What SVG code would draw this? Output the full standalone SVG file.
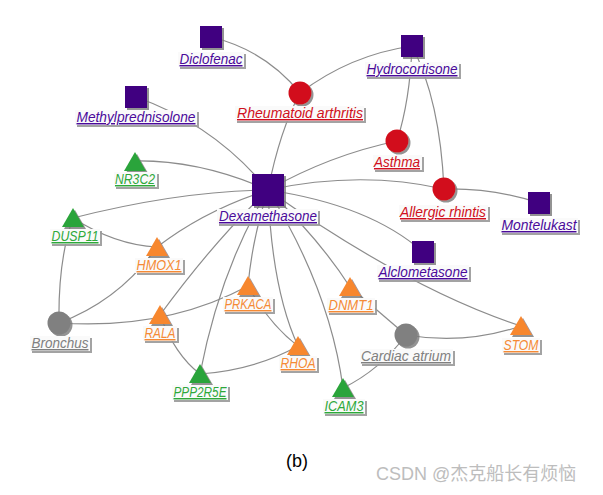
<svg xmlns="http://www.w3.org/2000/svg" xmlns:xlink="http://www.w3.org/1999/xlink" width="603" height="495" viewBox="0 0 603 495">
<defs>
<filter id="sh" x="-30%" y="-30%" width="160%" height="160%"><feDropShadow dx="2" dy="2" stdDeviation="0.6" flood-color="#777" flood-opacity="0.8"/></filter>
<filter id="lsh" x="-10%" y="-30%" width="120%" height="160%"><feDropShadow dx="2" dy="2" stdDeviation="0.5" flood-color="#999" flood-opacity="0.9"/></filter>
<path id="tri" d="M0,-10 L11,9 L-11,9 Z"/>
<rect id="sq" x="-11" y="-11" width="22" height="22"/>
</defs>
<style>
.e{fill:none;stroke:#8c8c8c;stroke-width:1.2}
.lb{fill:#fafafa;filter:url(#lsh)}
text.t{font-family:"Liberation Sans",Arial,sans-serif;font-style:italic;font-size:14.5px;text-anchor:middle;text-decoration:underline}
.pu{fill:#400080}.re{fill:#d2101b}.gr{fill:#2ba43a}.or{fill:#f7872f}.gy{fill:#808080}
text.pu{fill:#4a0a9a}text.re{fill:#d01020}text.gr{fill:#2ea83a}text.or{fill:#f58a35}text.gy{fill:#808080}
.n{filter:url(#sh)}
</style>
<rect width="603" height="495" fill="#fff"/>
<g id="edges">
<path class="e" d="M211,37 Q265,50 300,93"/>
<path class="e" d="M412,46 Q350,55 300,93"/>
<path class="e" d="M412,46 Q410,100 397,141"/>
<path class="e" d="M412,46 Q440,100 444,189"/>
<path class="e" d="M136,97 Q215,125 268,190"/>
<path class="e" d="M300,93 Q280,130 268,190"/>
<path class="e" d="M397,141 Q330,155 268,190"/>
<path class="e" d="M444,189 Q360,170 268,190"/>
<path class="e" d="M444,189 Q495,188 539,203"/>
<path class="e" d="M268,190 Q370,205 423,252"/>
<path class="e" d="M268,190 Q410,290 521,326"/>
<path class="e" d="M268,190 Q200,160 135,161"/>
<path class="e" d="M268,190 Q179,191 73,218"/>
<path class="e" d="M268,190 Q205,210 157,247"/>
<path class="e" d="M73,218 Q115,245 157,247"/>
<path class="e" d="M73,218 Q58,260 59,323"/>
<path class="e" d="M157,247 Q120,300 59,323"/>
<path class="e" d="M59,323 Q166,330 248,286"/>
<path class="e" d="M268,190 Q215,240 160,315"/>
<path class="e" d="M160,315 Q175,355 200,374"/>
<path class="e" d="M268,190 Q220,270 200,374"/>
<path class="e" d="M268,190 Q252,240 248,286"/>
<path class="e" d="M268,190 Q272,290 298,346"/>
<path class="e" d="M248,286 Q270,325 298,346"/>
<path class="e" d="M200,374 Q255,370 298,346"/>
<path class="e" d="M268,190 Q330,290 343,388"/>
<path class="e" d="M268,190 Q320,240 350,287"/>
<path class="e" d="M350,287 L406,335"/>
<path class="e" d="M406,335 Q465,345 521,326"/>
<path class="e" d="M406,335 Q380,370 343,388"/>
</g>
<g id="n-diclofenac"><use href="#sq" class="pu n" x="211" y="37"/><rect class="lb" x="178" y="52" width="66" height="15"/><text class="t pu" x="211" y="64" textLength="63" lengthAdjust="spacingAndGlyphs">Diclofenac</text></g>
<g id="n-methylprednisolone"><use href="#sq" class="pu n" x="136" y="97"/><rect class="lb" x="75" y="110" width="122" height="15"/><text class="t pu" x="136" y="122" textLength="119" lengthAdjust="spacingAndGlyphs">Methylprednisolone</text></g>
<g id="n-rheumatoid"><circle class="re n" cx="300" cy="93" r="11.5"/><rect class="lb" x="235" y="106" width="129" height="15"/><text class="t re" x="300" y="118" textLength="126" lengthAdjust="spacingAndGlyphs">Rheumatoid arthritis</text></g>
<g id="n-hydrocortisone"><use href="#sq" class="pu n" x="412" y="46"/><rect class="lb" x="365" y="62" width="94" height="15"/><text class="t pu" x="412" y="74" textLength="91" lengthAdjust="spacingAndGlyphs">Hydrocortisone</text></g>
<g id="n-asthma"><circle class="re n" cx="397" cy="141" r="11.5"/><rect class="lb" x="373" y="155" width="49" height="15"/><text class="t re" x="397" y="167" textLength="46" lengthAdjust="spacingAndGlyphs">Asthma</text></g>
<g id="n-allergic"><circle class="re n" cx="444" cy="189" r="11.5"/><rect class="lb" x="399" y="205" width="89" height="15"/><text class="t re" x="443" y="217" textLength="86" lengthAdjust="spacingAndGlyphs">Allergic rhintis</text></g>
<g id="n-montelukast"><use href="#sq" class="pu n" x="539" y="203"/><rect class="lb" x="500" y="218" width="78" height="15"/><text class="t pu" x="539" y="230" textLength="75" lengthAdjust="spacingAndGlyphs">Montelukast</text></g>
<g id="n-alclometasone"><use href="#sq" class="pu n" x="423" y="252"/><rect class="lb" x="377" y="265" width="92" height="15"/><text class="t pu" x="423" y="277" textLength="89" lengthAdjust="spacingAndGlyphs">Alclometasone</text></g>
<g id="n-dexamethasone"><rect class="pu n" x="252" y="174" width="32" height="32"/><rect class="lb" x="217" y="209" width="101" height="15"/><text class="t pu" x="268" y="221" textLength="98" lengthAdjust="spacingAndGlyphs">Dexamethasone</text></g>
<g id="n-nr3c2"><use href="#tri" class="gr n" x="135" y="162"/><rect class="lb" x="114" y="172" width="43" height="15"/><text class="t gr" x="135" y="184" textLength="40" lengthAdjust="spacingAndGlyphs">NR3C2</text></g>
<g id="n-dusp11"><use href="#tri" class="gr n" x="73" y="218"/><rect class="lb" x="50" y="229" width="50" height="15"/><text class="t gr" x="75" y="241" textLength="47" lengthAdjust="spacingAndGlyphs">DUSP11</text></g>
<g id="n-hmox1"><use href="#tri" class="or n" x="157" y="247"/><rect class="lb" x="135" y="258" width="48" height="15"/><text class="t or" x="159" y="270" textLength="45" lengthAdjust="spacingAndGlyphs">HMOX1</text></g>
<g id="n-bronchus"><circle class="gy n" cx="59" cy="323" r="11.5"/><rect class="lb" x="30" y="336" width="60" height="15"/><text class="t gy" x="60" y="348" textLength="57" lengthAdjust="spacingAndGlyphs">Bronchus</text></g>
<g id="n-rala"><use href="#tri" class="or n" x="160" y="315"/><rect class="lb" x="143" y="326" width="34" height="15"/><text class="t or" x="160" y="338" textLength="31" lengthAdjust="spacingAndGlyphs">RALA</text></g>
<g id="n-prkaca"><use href="#tri" class="or n" x="248" y="286"/><rect class="lb" x="223" y="297" width="50" height="15"/><text class="t or" x="248" y="309" textLength="47" lengthAdjust="spacingAndGlyphs">PRKACA</text></g>
<g id="n-rhoa"><use href="#tri" class="or n" x="298" y="346"/><rect class="lb" x="279" y="356" width="38" height="15"/><text class="t or" x="298" y="368" textLength="35" lengthAdjust="spacingAndGlyphs">RHOA</text></g>
<g id="n-ppp2r5e"><use href="#tri" class="gr n" x="200" y="374"/><rect class="lb" x="172" y="385" width="56" height="15"/><text class="t gr" x="200" y="397" textLength="53" lengthAdjust="spacingAndGlyphs">PPP2R5E</text></g>
<g id="n-dnmt1"><use href="#tri" class="or n" x="350" y="287"/><rect class="lb" x="327" y="298" width="48" height="15"/><text class="t or" x="351" y="310" textLength="45" lengthAdjust="spacingAndGlyphs">DNMT1</text></g>
<g id="n-cardiac"><circle class="gy n" cx="406" cy="335" r="11.5"/><rect class="lb" x="360" y="349" width="93" height="15"/><text class="t gy" x="406" y="361" textLength="90" lengthAdjust="spacingAndGlyphs">Cardiac atrium</text></g>
<g id="n-stom"><use href="#tri" class="or n" x="521" y="326"/><rect class="lb" x="502" y="338" width="38" height="15"/><text class="t or" x="521" y="350" textLength="35" lengthAdjust="spacingAndGlyphs">STOM</text></g>
<g id="n-icam3"><use href="#tri" class="gr n" x="343" y="388"/><rect class="lb" x="323" y="399" width="42" height="15"/><text class="t gr" x="344" y="411" textLength="39" lengthAdjust="spacingAndGlyphs">ICAM3</text></g>
<text x="297" y="467" font-family="Liberation Sans, Arial, sans-serif" font-size="18" text-anchor="middle" fill="#000">(b)</text>
<text x="376" y="480" font-family="Liberation Sans, 'Noto Sans CJK SC', sans-serif" font-size="18" fill="#bdbdbd">CSDN @杰克船长有烦恼</text>
</svg>
